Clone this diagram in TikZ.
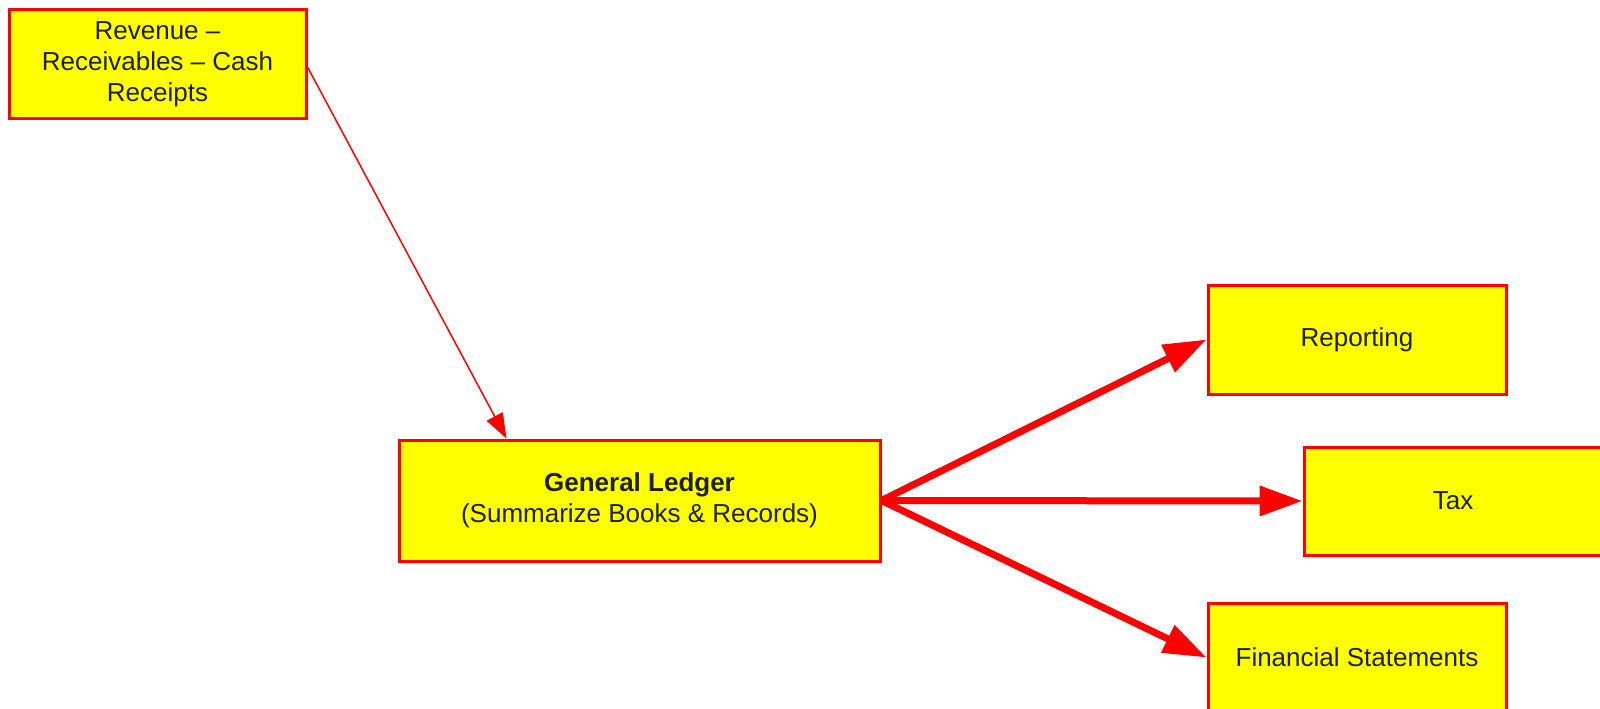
\documentclass[tikz,border=0pt]{standalone}
\usepackage{fontspec}
\setmainfont{Liberation Sans}
\usetikzlibrary{arrows.meta}
\definecolor{boxfill}{RGB}{255,255,0}
\definecolor{boxline}{RGB}{255,0,0}
\definecolor{boxtext}{RGB}{30,30,0}
\tikzset{
  box/.style={draw=boxline, fill=boxfill, line width=3pt, rectangle, inner sep=0pt,
    align=center, font=\fontsize{26}{31}\selectfont, text=boxtext},
  thick arrow/.style={draw=boxline, line width=7pt, -{Triangle[length=43pt,width=29pt]}},
  thin arrow/.style={draw=boxline, line width=1.5pt, -{Triangle[length=25pt,width=18pt]}}
}
\begin{document}
\begin{tikzpicture}[x=1pt,y=-1pt]
\useasboundingbox (0,0) rectangle (1600,709);
\node[box, minimum width=297pt, minimum height=108pt] (rev) at (157.5,64)
  {Revenue --\\Receivables -- Cash\\Receipts};
\node[box, minimum width=481pt, minimum height=121pt] (gl) at (639.5,500.5)
  {\textbf{General Ledger}\\(Summarize Books \& Records)};
\node[box, minimum width=298pt, minimum height=109pt] (rep) at (1357,339.5) {Reporting};
\node[box, minimum width=298pt, minimum height=108pt] (tax) at (1453,501) {Tax};
\node[box, minimum width=298pt, minimum height=109pt] (fin) at (1357,657.5) {Financial Statements};
\draw[thin arrow] ([yshift=-3pt]rev.east) -- ([xshift=109pt]gl.north west);
\draw[thick arrow] (gl.east) -- (rep.west);
\draw[thick arrow] (gl.east) -- (tax.west);
\draw[thick arrow] (gl.east) -- (fin.west);
\end{tikzpicture}
\end{document}
